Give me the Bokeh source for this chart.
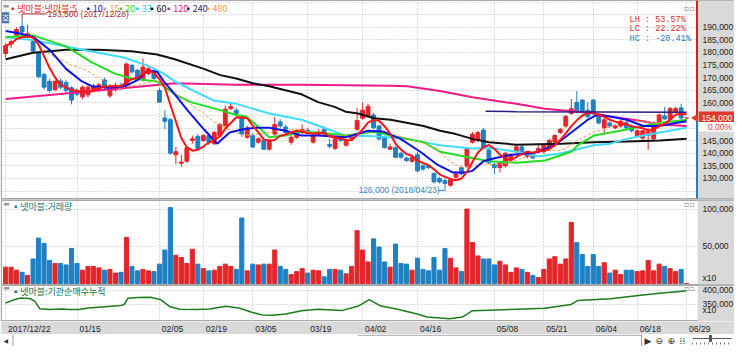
import pandas as pd
from bokeh.plotting import figure
from bokeh.layouts import column
from bokeh.models import Range1d, FixedTicker, Label, Grid, ColumnDataSource
from bokeh.core.properties import value
from bokeh.embed import file_html
from bokeh.resources import INLINE

# ---------------- data ----------------
tick_idx = [0, 13, 28, 36, 45, 55, 65, 75, 89, 98, 107, 115, 124]
tick_lab = ["2017/12/22", "01/15", "02/05", "02/19", "03/05", "03/19",
            "04/02", "04/16", "05/08", "05/21", "06/04", "06/18", "06/29"]

# prices in thousand won
opens_k = [179.6,183.4,186.8,190.3,186.5,184.3,179.9,171.3,168.5,165.3,
           168.7,168.1,166.0,164.9,162.4,163.2,165.3,165.0,169.1,162.8,
           165.2,167.0,167.0,174.8,172.9,169.1,171.6,172.9,164.9,154.0,
           153.3,139.4,136.0,136.8,145.1,146.7,145.1,147.0,143.8,147.0,
           151.0,157.7,157.1,153.9,146.3,147.0,144.4,145.1,141.6,147.6,
           152.4,150.4,144.4,146.3,148.2,149.2,144.4,147.2,149.5,143.5,
           141.9,146.3,143.2,145.7,149.5,153.9,154.6,155.2,150.8,146.5,
           141.6,142.2,140.0,138.1,136.8,139.4,135.0,135.0,132.0,130.0,
           129.2,127.3,130.5,134.3,134.9,144.4,145.1,149.2,141.3,135.6,
           134.3,135.0,137.5,140.6,142.5,138.7,139.6,141.0,140.6,141.9,
           144.4,148.2,150.8,155.8,160.2,161.1,157.1,161.1,154.6,150.1,
           152.0,150.1,150.8,152.2,150.8,147.0,146.0,147.0,145.7,152.0,
           154.8,153.3,156.5,158.0,154.0]
highs_k = [183.7,185.0,190.0,193.5,191.0,184.9,180.5,172.0,169.5,169.1,
           169.7,169.1,166.6,165.8,167.0,167.2,167.5,168.0,170.0,167.5,
           168.0,168.0,176.0,175.5,173.5,177.6,175.0,174.0,166.0,157.1,
           154.0,142.5,139.4,142.5,147.0,147.6,147.6,148.2,148.9,152.0,
           159.0,159.9,158.1,155.0,151.0,148.0,146.3,146.0,145.7,154.3,
           153.5,151.4,147.6,148.5,151.4,150.1,147.6,149.5,150.8,145.7,
           146.0,147.0,145.7,147.6,158.0,160.2,159.6,156.0,151.4,147.0,
           143.8,142.8,140.6,138.7,139.4,140.6,135.6,135.6,132.4,130.6,
           130.0,129.9,133.0,135.0,142.5,148.5,148.9,150.1,141.9,136.2,
           136.8,140.6,140.0,143.2,143.8,141.0,140.6,143.8,143.2,145.7,
           147.6,150.1,155.2,161.5,164.7,161.5,160.3,161.5,155.8,153.9,
           152.7,151.4,153.3,153.0,151.4,149.5,149.2,150.1,152.7,155.8,
           158.4,158.4,158.4,159.6,154.0]
lows_k = [178.0,181.8,186.2,187.5,185.6,179.9,169.7,165.3,164.0,164.5,
          165.3,164.0,159.4,162.8,161.5,162.2,164.5,164.3,165.3,162.0,
          164.5,165.0,166.6,171.6,169.1,168.5,171.0,169.0,160.0,149.5,
          139.4,135.6,134.5,136.2,143.8,141.3,144.4,143.2,143.2,146.3,
          150.5,157.1,155.2,146.5,145.7,142.0,143.8,141.3,141.0,146.7,
          150.1,147.6,143.4,145.7,147.6,147.6,143.8,146.7,147.0,141.9,
          141.3,144.4,142.5,145.1,149.0,153.3,154.0,149.5,145.1,141.9,
          141.3,138.1,137.8,136.5,136.2,132.4,133.0,133.7,128.0,128.0,
          126.0,126.7,129.9,131.3,134.3,143.8,144.4,142.0,135.6,131.8,
          132.4,134.3,137.0,140.0,139.6,138.0,137.8,140.6,139.9,141.3,
          143.8,147.6,150.1,155.2,155.8,155.8,153.9,155.2,151.4,147.6,
          150.1,149.5,150.1,149.5,148.2,146.3,145.1,141.3,145.1,151.4,
          153.3,152.7,155.8,153.3,154.0]
closes_k = [182.7,184.3,189.1,188.1,187.5,180.5,170.4,166.2,164.9,168.5,
            166.2,164.9,161.1,163.4,166.2,166.2,166.6,167.2,166.2,166.6,
            167.0,165.7,175.4,172.3,169.7,174.2,173.5,169.7,160.3,152.7,
            140.0,140.6,136.5,142.2,145.7,141.9,147.0,144.4,148.2,151.4,
            157.5,158.6,155.8,147.6,150.1,142.5,145.7,141.6,145.1,151.4,
            150.8,148.2,146.3,148.0,149.5,148.0,147.0,148.2,147.6,142.8,
            145.7,145.1,145.1,147.0,153.0,157.1,158.6,150.1,145.7,142.2,
            142.5,138.4,138.4,137.1,138.4,133.0,133.7,134.3,128.6,128.6,
            128.0,129.5,131.8,131.8,141.9,147.6,148.2,142.5,136.2,134.3,
            136.2,140.0,139.4,142.5,140.6,140.6,138.1,141.9,143.2,145.1,
            147.0,149.5,154.6,157.7,156.5,156.5,154.6,155.8,152.0,153.3,
            150.8,150.8,152.7,150.1,148.9,148.9,148.9,148.5,152.0,155.2,
            153.6,157.7,157.7,154.0,154.0]
# volume, as on the axis (x10), thousands
volumes_k = [22,22,18,15,11,33,61,54,31,27,
             27,25,47,27,18,23,23,21,18,19,
             14,15,62,23,17,19,17,16,26,45,
             102,38,35,27,46,26,20,17,18,23,
             26,23,19,88,17,26,25,26,26,45,
             23,19,12,16,20,14,18,17,9,19,
             19,18,13,23,71,45,29,60,49,29,
             22,53,27,26,18,34,19,17,35,18,
             47,34,21,16,100,55,37,33,33,25,
             30,25,15,21,19,15,11,8,19,33,
             36,26,33,82,55,39,23,39,23,28,
             14,18,12,18,18,16,17,31,17,26,
             23,20,16,19,0]

# moving-average lines (candle index, thousand won)
ma10_x = [0, 2.6, 5, 8, 11, 13.9, 15.7, 18.7, 21.7, 24.1, 25.8, 27.6, 28.8, 30.8, 33.1, 36.1, 38.5,
          40.8, 43.2, 45.6, 48, 51, 53.9, 56.9, 61.9, 66, 68.9, 71.9, 75.5, 78.5, 81.4, 83.8, 85,
          87, 89.2, 92.1, 95.8, 97, 100, 103, 106, 107.7, 110.1, 113.1, 116.1, 119.1, 122, 124]
ma10_y = [188.5, 187.5, 186.2, 181.1, 173.5, 168.5, 166.6, 166.0, 166.6, 169.1, 172.9, 172.3, 168.5,
          163.4, 157.1, 149.5, 143.8, 148.2, 149.5, 150.1, 150.1, 148.9, 147.0, 147.0, 146.3, 148.9,
          148.5, 145.7, 140.6, 135.6, 132.4, 132.4, 133.0, 136.8, 138.1, 139.4, 140.0, 140.6, 143.2,
          148.2, 153.3, 155.2, 154.6, 153.3, 150.8, 150.8, 152.0, 152.7]
ma20_x = [0, 5, 11, 15.7, 19.9, 22.9, 27.6, 30.8, 33.7, 39.1, 42, 43.8, 46.2, 48, 51, 53.9, 56.9,
          61.9, 67.1, 70.1, 76.1, 79.1, 85, 88, 93, 98.2, 103, 104.2, 107.1, 111.9, 116.1, 119.1, 124]
ma20_y = [186.0, 186.8, 182.4, 176.1, 171.6, 169.7, 168.5, 163.4, 160.3, 157.1, 155.2, 154.6, 150.1,
          146.3, 147.0, 148.5, 148.2, 147.0, 148.5, 147.0, 144.4, 140.6, 138.1, 136.8, 136.2, 137.1,
          140.6, 143.2, 147.0, 148.9, 150.8, 152.0, 153.3]
ma33_x = [0, 5, 11, 16.9, 21.5, 25.8, 28.8, 30.8, 33.1, 37.9, 42, 45, 48, 53.9, 58.7, 61.9, 67.1,
          73.1, 79.1, 85, 88, 93, 97, 101.2, 107.1, 110.1, 113.1, 116.1, 119.1, 124]
ma33_y = [186.0, 184.9, 182.4, 179.9, 178.0, 174.8, 171.6, 168.5, 166.0, 160.9, 159.6, 157.7, 155.8,
          153.3, 149.5, 147.0, 146.7, 145.7, 143.2, 141.9, 142.1, 140.6, 138.7, 140.0, 143.2, 143.8,
          145.7, 147.0, 148.2, 150.1]
ma60_x = [0, 5, 11, 16.9, 22.9, 27.6, 30.8, 36.1, 39.1, 42, 45, 48, 53.9, 56.9, 59.9, 61.9, 64.2,
          67.1, 70.1, 76.1, 79.1, 82, 85, 88, 93, 101.2, 107.1, 113.1, 119.1, 124]
ma60_y = [177.3, 179.9, 181.1, 181.1, 180.5, 179.2, 177.3, 173.5, 171.0, 169.7, 167.8, 166.6, 163.4,
          160.3, 158.4, 156.5, 155.8, 153.9, 153.3, 150.8, 148.9, 147.6, 145.7, 144.4, 143.4, 143.8,
          144.4, 144.7, 145.1, 145.7]
ma120_x = [0, 15, 30.8, 42, 53.9, 61.9, 70.1, 73.1, 79.1, 85, 93, 98.2, 104.2, 107.1, 110.1, 116.1,
           119.1, 124]
ma120_y = [161.5, 164.5, 167.8, 167.2, 167.2, 167.0, 166.8, 166.6, 164.7, 162.2, 159.6, 157.7, 156.5,
           155.8, 154.6, 152.7, 151.4, 150.8]
ma240_x = [87.4, 93, 124]
ma240_y = [156.7, 156.5, 156.3]

# institutional cumulative net buying (axis units x10), thousands
cum_x = [0, 1.73, 2.63, 4.41, 5.3, 6.2, 7.98, 10.3, 11.55, 13.34, 15.13, 17.45, 20.48, 21.55, 22.27,
         24.05, 26.38, 28.16, 29.95, 31.73, 34.77, 37.09, 40.13, 42.63, 44.95, 46.73, 48.52, 51.02,
         53.88, 56.91, 61.2, 64.23, 66.2, 68.34, 71.38, 74.95, 76.73, 80.84, 83.16, 84.95, 87.98,
         92.98, 98.16, 102.98, 104.23, 110.13, 116.02, 119.05, 123.16, 124]
cum_y = [355.0, 367.7, 372.3, 371.0, 361.7, 335.0, 332.3, 334.0, 332.3, 332.3, 337.7, 341.0, 345.0,
         349.0, 371.7, 374.3, 375.7, 367.7, 341.7, 333.3, 332.3, 334.3, 343.3, 336.7, 321.7, 313.3,
         311.7, 316.7, 327.7, 333.3, 328.3, 344.3, 366.7, 344.3, 333.3, 316.7, 305.7, 300.0, 305.7,
         327.7, 330.0, 333.3, 336.7, 350.0, 364.3, 370.0, 383.3, 389.0, 396.7, 398.0]

price_ticks = [130000, 135000, 140000, 145000, 160000, 165000, 170000, 175000, 180000, 185000, 190000]
vol_ticks = [100000, 50000]
cum_ticks = [400000, 350000]
unit_text = "x10"

legend_items = ["▪넷마블:넷마블;5", "▪10", "▪15", "▪20", "▪33", "▪60", "▪120", "▪240", "▪480"]
legend_colors = ["#e42b2b", "#1515e0", "#ff9a4a", "#1ed81e", "#22c8ea", "#111111", "#e8157a", "#2b1a80", "#ff9a3a"]
legend_xref = [8, 85, 102, 118, 135, 150, 167, 187, 207]
stat_texts = ["LH :  53.57%", "LC :  22.22%", "HC : -20.41%"]
stat_colors = ["#d83030", "#d83030", "#2a78c0"]
high_idx, high_val, high_text = 3, 193500, "193,500 (2017/12/28)"
low_idx, low_val, low_text = 80, 126000, "126,000 (2018/04/23)"
last_price, last_text, last_chg = 154000, "154,000", "0.00%"

# ---------------- helpers: reference-pixel -> data positions ----------------
def ix(xr_):
    return (xr_ - 5.3) / 5.6

def py(yr):
    return 190000 - (yr - 28) * 379.7

def pv(yr):
    return (296 - yr) * 1282

def pc(yr):
    return 400000 - (yr - 303) * 3333.3

KR = "Noto Sans CJK KR"
NUM = "Liberation Sans"
W = 734
AXBG = "#d9d9d9"
UP = "#e2262a"
DN = "#1f80c3"
GRIDC = "#bcbcbc"

opens = [v * 1000 for v in opens_k]
highs = [v * 1000 for v in highs_k]
lows = [v * 1000 for v in lows_k]
closes = [v * 1000 for v in closes_k]
vols = [v * 1000 for v in volumes_k]
n = len(opens)
xs = list(range(n))
cols = [UP if c >= o else DN for o, c in zip(opens, closes)]
src = ColumnDataSource(dict(
    x=xs, h=highs, l=lows,
    top=[max(o, c) for o, c in zip(opens, closes)],
    bot=[min(o, c) for o, c in zip(opens, closes)],
    col=cols, v=vols))

cs = pd.Series(closes)
ma5 = cs.rolling(5, min_periods=1).mean().tolist()
ma15 = cs.rolling(15, min_periods=1).mean().tolist()

# frame covers the whole width (1px left border); right axis strip drawn inside
XEND = -0.75 + 733 * 126.55 / 695.0
xr = Range1d(-0.75, XEND)
AX0 = ix(711)


def panel(h, y0, y1, bb, ticks, grid_ticks, fmt, extra=None):
    p = figure(width=W, height=h, x_range=xr, y_range=Range1d(y0, y1), output_backend="svg",
               toolbar_location=None, tools="", x_axis_location=None, y_axis_location=None,
               min_border_left=1, min_border_right=0, min_border_top=0, min_border_bottom=bb,
               border_fill_color="#c4c4c4", background_fill_color="white", outline_line_color="#a8a8a8")
    p.grid.visible = False
    p.add_layout(Grid(dimension=1, ticker=FixedTicker(ticks=grid_ticks),
                      grid_line_color=GRIDC, grid_line_dash="1 2"))
    p.add_layout(Grid(dimension=0, ticker=FixedTicker(ticks=tick_idx),
                      grid_line_color=GRIDC, grid_line_dash="1 2"))
    return p


def axis_strip(p, y0, y1, ticks, labels):
    p.quad(left=[AX0], right=[XEND + 1], bottom=[y0], top=[y1], fill_color=AXBG, line_color=None)
    p.text(x=[ix(716)] * len(ticks), y=ticks, text=labels, text_font=value(NUM),
           text_font_size="8.5px", text_color="#222222", text_baseline="middle", text_align="left")


def lab(p, xv, yv, text, color, size="9px", font=KR, align="left", bg=None):
    l = Label(x=xv, y=yv, text=text, text_color=color, text_font_size=size, text_font=font,
              text_align=align, text_baseline="middle")
    if bg:
        l.background_fill_color = bg
    p.add_layout(l)


def fmt(v):
    return "{:,}".format(int(v))


# ---------------- price panel ----------------
PY0, PY1 = 122030, 200630
p1 = panel(200, PY0, PY1, 2, price_ticks, list(range(125000, 200001, 5000)), fmt)
p1.segment(x0="x", y0="l", x1="x", y1="h", color="col", line_width=1, source=src)
p1.vbar(x="x", width=0.7, top="top", bottom="bot", fill_color="col", line_color="col", source=src)

p1.line(ma120_x, [v * 1000 for v in ma120_y], color="#ef1a86", line_width=2)
p1.line(ma60_x, [v * 1000 for v in ma60_y], color="#111111", line_width=2)
p1.line(ma33_x, [v * 1000 for v in ma33_y], color="#3fdcff", line_width=2)
p1.line(ma20_x, [v * 1000 for v in ma20_y], color="#22dd22", line_width=2)
p1.line(xs, ma15, color="#ff9a4a", line_width=1, line_dash="3 2")
p1.line(ma10_x, [v * 1000 for v in ma10_y], color="#1010e8", line_width=2)
p1.line(xs, ma5, color="#ff1414", line_width=2)
p1.line(ma240_x, [v * 1000 for v in ma240_y], color="#2b1a80", line_width=1.5)

axis_strip(p1, PY0, PY1, price_ticks, [fmt(t) for t in price_ticks])
# right-edge price bar (red above, blue below the last price)
p1.segment(x0=[ix(710.3)], y0=[last_price], x1=[ix(710.3)], y1=[PY1], color="#d42020", line_width=2)
p1.segment(x0=[ix(710.3)], y0=[PY0], x1=[ix(710.3)], y1=[last_price], color="#1f80c3", line_width=2)
# last price marker
p1.quad(left=[ix(712)], right=[ix(749)], bottom=[py(127)], top=[py(116)], fill_color="#e0392b", line_color=None)
p1.scatter(x=[ix(708.5)], y=[last_price], marker="triangle", angle=1.5708, size=6, color="#e0392b")
p1.text(x=[ix(715)], y=[last_price], text=[last_text], text_font=value(NUM), text_font_size="8.5px",
        text_color="white", text_baseline="middle")
p1.quad(left=[ix(712)], right=[ix(749)], bottom=[py(137)], top=[py(127)], fill_color="white", line_color=None)
p1.text(x=[ix(746)], y=[py(132)], text=[last_chg], text_font=value(NUM), text_font_size="8.5px",
        text_color="#e0392b", text_baseline="middle", text_align="right")

# legend row
lab(p1, ix(2.5), py(5.5), "▬", "#9a9a9a", size="7px", font="DejaVu Sans")
for t, c, xref in zip(legend_items, legend_colors, legend_xref):
    lab(p1, ix(xref), py(8), t, c)
lab(p1, ix(1.5), py(18), "호", "white", size="8px", bg="#4a76a6")

# high / low annotations
p1.segment(x0=[high_idx, high_idx], y0=[py(14), py(14)], x1=[high_idx, ix(47)], y1=[high_val, py(14)],
           color="#b03030", line_width=1)
lab(p1, ix(48), py(14), high_text, "#a83232", size="8.5px", font=NUM)
p1.segment(x0=[ix(446), low_idx], y0=[py(198.5), py(198.5)], x1=[low_idx, low_idx], y1=[py(198.5), low_val],
           color="#3a88c0", line_width=1)
lab(p1, ix(365), py(198.5), low_text, "#3a88c0", size="8.5px", font=NUM)

# stats box
for k, (t, c) in enumerate(zip(stat_texts, stat_colors)):
    lab(p1, ix(704), py(20 + 10 * k), t, c, size="8.5px", font="Liberation Mono", align="right")
lab(p1, ix(697), py(8), "▫▫", "#888888", size="8px", font="DejaVu Sans")

# ---------------- volume panel ----------------
VY0, VY1 = -1300, 111500
p2 = panel(85, VY0, VY1, 1, vol_ticks, vol_ticks, fmt)
p2.vbar(x="x", width=0.75, top="v", bottom=0, fill_color="col", line_color="col", source=src)
axis_strip(p2, VY0, VY1, vol_ticks + [pv(290)], [fmt(t) for t in vol_ticks] + [unit_text])
lab(p2, ix(3), pv(213), "▬", "#9a9a9a", size="7px", font="DejaVu Sans")
lab(p2, ix(11), pv(215), "▪넷마블:거래량", "#1c7a74")
lab(p2, ix(697), pv(213), "▫▫", "#888888", size="8px", font="DejaVu Sans")

# ---------------- institutional cumulative panel ----------------
CY0, CY1 = 290000, 416700
p3 = panel(36, CY0, CY1, 0, cum_ticks, cum_ticks, fmt)
p3.line(cum_x, [v * 1000 for v in cum_y], color="#1d7a1d", line_width=1.5)
axis_strip(p3, CY0, CY1, cum_ticks + [pc(323.5)], [fmt(t) for t in cum_ticks] + [unit_text])
lab(p3, ix(3), pc(301), "▬", "#9a9a9a", size="7px", font="DejaVu Sans")
lab(p3, ix(11), pc(304), "▪넷마블:기관순매수누적", "#236f3a")
lab(p3, ix(697), pc(301), "▫▫", "#888888", size="8px", font="DejaVu Sans")

# ---------------- date band ----------------
p4 = figure(width=W, height=13, x_range=xr, y_range=Range1d(0, 1),
            output_backend="svg", toolbar_location=None, tools="", x_axis_location=None,
            y_axis_location=None, min_border_left=1, min_border_right=0, min_border_top=0,
            min_border_bottom=0, background_fill_color=AXBG, border_fill_color=AXBG,
            outline_line_color=None)
p4.grid.visible = False
p4.text(x=[t + 0.45 for t in tick_idx], y=[0.45] * len(tick_idx), text=tick_lab,
        text_font=value(NUM), text_font_size="8.5px", text_color="#222222",
        text_baseline="middle", text_align="left")

# ---------------- scroll bar row ----------------
p5 = figure(width=W, height=12, x_range=Range1d(0, W), y_range=Range1d(0, 12), output_backend="svg",
            toolbar_location=None, tools="", x_axis_location=None, y_axis_location=None,
            min_border_left=0, min_border_right=0, min_border_top=0, min_border_bottom=0,
            background_fill_color="white", border_fill_color="white", outline_line_color=None)
p5.grid.visible = False
p5.text(x=[2], y=[6], text=["◀"], text_font=value("DejaVu Sans"), text_font_size="6px",
        text_color="#333333", text_baseline="middle")
p5.segment(x0=[11.5, 357, 641], y0=[0, 11.3, 0], x1=[11.5, 641, 641], y1=[12, 11.3, 12],
           color="#9a9a9a", line_width=1)
p5.text(x=[644, 655, 667, 679], y=[6, 6, 6, 6], text=["▶", "⊖", "⊕", "⁞⁞"],
        text_font=value("DejaVu Sans"), text_font_size="9px", text_color="#333333",
        text_baseline="middle")
p5.segment(x0=[692], y0=[8], x1=[731], y1=[8], color="#555555", line_width=1)
p5.segment(x0=[692 + 4 * k for k in range(10)], y0=[2] * 10, x1=[692 + 4 * k for k in range(10)],
           y1=[4] * 10, color="#777777", line_width=1)
p5.rect(x=[710], y=[8], width=2, height=6, fill_color="#555555", line_color="#555555")

layout = column(p1, p2, p3, p4, p5, spacing=0)
open("out.html", "w").write(file_html(layout, INLINE))
